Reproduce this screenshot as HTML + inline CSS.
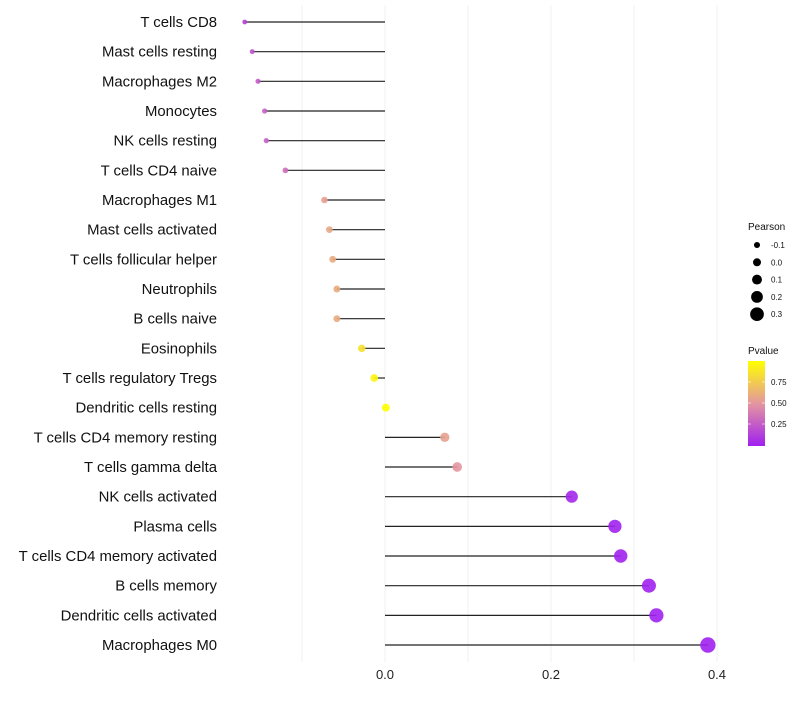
<!DOCTYPE html>
<html><head><meta charset="utf-8"><style>
body{margin:0;background:#fff;font-family:"Liberation Sans",sans-serif}
</style></head><body>
<svg id="chart" width="800" height="700" xmlns="http://www.w3.org/2000/svg"></svg>
<script>
const categories=["T cells CD8","Mast cells resting","Macrophages M2","Monocytes","NK cells resting","T cells CD4 naive","Macrophages M1","Mast cells activated","T cells follicular helper","Neutrophils","B cells naive","Eosinophils","T cells regulatory  Tregs","Dendritic cells resting","T cells CD4 memory resting","T cells gamma delta","NK cells activated","Plasma cells","T cells CD4 memory activated","B cells memory","Dendritic cells activated","Macrophages M0"];
const pearson=[-0.169,-0.160,-0.153,-0.145,-0.143,-0.120,-0.073,-0.067,-0.063,-0.058,-0.058,-0.028,-0.013,0.001,0.072,0.087,0.225,0.277,0.284,0.318,0.327,0.389];
const pvalue=[0.15,0.22,0.25,0.28,0.28,0.33,0.55,0.58,0.6,0.6,0.6,0.85,0.95,1.0,0.55,0.5,0.03,0.01,0.01,0.005,0.005,0.002];
const xTicks=[0.0,0.2,0.4];
const xMinor=[-0.1,0.1,0.3];
const sizeLegend=[-0.1,0.0,0.1,0.2,0.3];
const colorTicks=[0.25,0.5,0.75];
const NS="http://www.w3.org/2000/svg";
const svg=document.getElementById('chart');
const x=v=>385+v*830;
const y=i=>22+i*29.667;
const r=v=>Math.max(2,4+v*9.5);
function lerp(a,b,t){return a.map((c,k)=>Math.round(c+(b[k]-c)*t));}
function col(p){const P=[160,32,240],M=[228,150,160],Y=[255,255,0];
 const c=p<0.5?lerp(P,M,p/0.5):lerp(M,Y,(p-0.5)/0.5);return `rgb(${c})`;}
function mk(tag,attrs,parent){const e=document.createElementNS(NS,tag);for(const k in attrs)e.setAttribute(k,attrs[k]);(parent||svg).appendChild(e);return e;}
[...xTicks,...xMinor].forEach(v=>{
 const g=mk('line',{x1:x(v),x2:x(v),y1:5,y2:662,stroke:'#f0f0f0','stroke-width':1});
 
 
});
xTicks.forEach(v=>{
 const t=mk('text',{x:x(v),y:679,'text-anchor':'middle','font-size':13,fill:'#222'});t.textContent=v.toFixed(1);
 
 
});
categories.forEach((c,i)=>{
 const t=mk('text',{x:217,y:y(i)+5,'text-anchor':'end','font-size':14.9,fill:'#111'});t.textContent=c;
 t.setAttribute('xml:space','preserve');
 
 
 const l=mk('line',{x1:x(0),x2:x(pearson[i]),y1:y(i),y2:y(i),stroke:'#222','stroke-width':1.2});
 
 
 const d=mk('circle',{cx:x(pearson[i]),cy:y(i),r:r(pearson[i]),fill:col(pvalue[i]),'fill-opacity':0.9});
 
 
});
let t=mk('text',{x:748,y:230,'font-size':10,fill:'#111'});t.textContent='Pearson';


sizeLegend.forEach((v,i)=>{
 const cy=245+i*17.3;
 const c=mk('circle',{cx:757,cy:cy,r:r(v),fill:'#000'});
 
 
 const tt=mk('text',{x:771,y:cy+3,'font-size':8,fill:'#111'});tt.textContent=v.toFixed(1);
 
 
});
t=mk('text',{x:748,y:354,'font-size':10,fill:'#111'});t.textContent='Pvalue';


const defs=mk('defs',{});
const gr=mk('linearGradient',{id:'pg',x1:0,y1:1,x2:0,y2:0},defs);
[0,0.25,0.5,0.75,1].forEach(p=>mk('stop',{offset:p,'stop-color':col(p)},gr));
const bar=mk('rect',{x:748,y:361,width:17,height:85,fill:'url(#pg)'});


colorTicks.forEach(p=>{
 const cy=445-p*84;
 mk('line',{x1:748,x2:751,y1:cy,y2:cy,stroke:'#fff','stroke-opacity':0.6});
 mk('line',{x1:762,x2:765,y1:cy,y2:cy,stroke:'#fff','stroke-opacity':0.6});
 const tt=mk('text',{x:771,y:cy+3,'font-size':8,fill:'#111'});tt.textContent=p.toFixed(2);
 
 
});
</script>
</body></html>
